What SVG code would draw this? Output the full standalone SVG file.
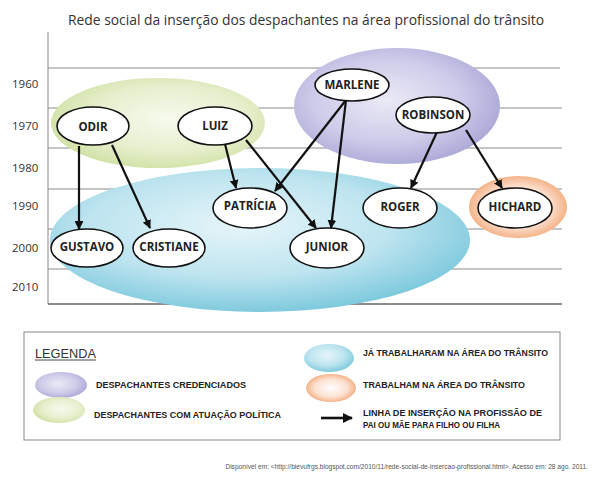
<svg xmlns="http://www.w3.org/2000/svg" width="600" height="477" viewBox="0 0 600 477">
<defs>
<radialGradient id="gGreen" cx="0.55" cy="0.45" r="0.6"><stop offset="0" stop-color="#f7faee"/><stop offset="0.6" stop-color="#e6efcd"/><stop offset="1" stop-color="#cfe0a2"/></radialGradient>
<radialGradient id="gPurple" cx="0.45" cy="0.45" r="0.6"><stop offset="0" stop-color="#ebeaf6"/><stop offset="0.6" stop-color="#cdcbe9"/><stop offset="1" stop-color="#a9a5d6"/></radialGradient>
<radialGradient id="gBlue" cx="0.45" cy="0.4" r="0.6"><stop offset="0" stop-color="#e6f5f9"/><stop offset="0.6" stop-color="#bde4ef"/><stop offset="1" stop-color="#80cade"/></radialGradient>
<radialGradient id="gOrange" cx="0.5" cy="0.5" r="0.55"><stop offset="0" stop-color="#fff"/><stop offset="0.6" stop-color="#fce0cf"/><stop offset="1" stop-color="#f2a674"/></radialGradient>
<marker id="ah" viewBox="0 0 10 10" refX="9" refY="5" markerWidth="4" markerHeight="4" orient="auto"><path d="M0,0 L10,5 L0,10 z" fill="#111"/></marker>
<style>
.grid{stroke:#8a8a8a;stroke-width:1}
.yr{font-family:"Open Sans","Liberation Sans",sans-serif;font-size:11.5px;fill:#333}
.node ellipse{fill:#fff;stroke:#111;stroke-width:1.6}
.node text{font-family:"Open Sans","Liberation Sans",sans-serif;font-weight:bold;font-size:11.5px;fill:#222;text-anchor:middle;dominant-baseline:central}
.arr{stroke:#111;stroke-width:2.2;fill:none;marker-end:url(#ah)}
.leg{font-family:"Liberation Sans",Arial,sans-serif;font-weight:bold;font-size:8.5px;fill:#222}
</style>
</defs>
<rect width="600" height="477" fill="#fff"/>
<text x="306" y="25" text-anchor="middle" font-family="'Open Sans','Liberation Sans',sans-serif" font-size="14.5" fill="#333" textLength="476" lengthAdjust="spacingAndGlyphs">Rede social da inserção dos despachantes na área profissional do trânsito</text>
<g id="grid">
<line class="grid" x1="48" y1="32" x2="48" y2="304"/>
<line class="grid" x1="48" y1="68" x2="560" y2="68"/>
<line class="grid" x1="48" y1="108" x2="562" y2="108"/>
<line class="grid" x1="48" y1="148" x2="562" y2="148"/>
<line class="grid" x1="48" y1="189" x2="562" y2="189"/>
<line class="grid" x1="48" y1="229" x2="562" y2="229"/>
<line class="grid" x1="48" y1="269" x2="562" y2="269"/>
<line x1="48" y1="304" x2="562" y2="304" stroke="#666" stroke-width="1.3"/>
<text class="yr" x="12" y="88">1960</text>
<text class="yr" x="12" y="130">1970</text>
<text class="yr" x="12" y="172">1980</text>
<text class="yr" x="12" y="210">1990</text>
<text class="yr" x="12" y="252">2000</text>
<text class="yr" x="12" y="291">2010</text>
</g>
<g id="groups">
<ellipse cx="158" cy="123" rx="107" ry="45" fill="url(#gGreen)"/>
<ellipse cx="397" cy="106" rx="103" ry="58" fill="url(#gPurple)"/>
<ellipse cx="260" cy="240" rx="210" ry="72" fill="url(#gBlue)"/>
<ellipse cx="518" cy="207" rx="49" ry="31" fill="url(#gOrange)"/>
</g>
<g id="connectors">
<line class="arr" x1="79" y1="146" x2="79" y2="229"/>
<line class="arr" x1="112" y1="145" x2="150" y2="228"/>
<line class="arr" x1="225" y1="144" x2="236" y2="188"/>
<line class="arr" x1="246" y1="140" x2="316" y2="228"/>
<line class="arr" x1="346" y1="100" x2="275" y2="191"/>
<line class="arr" x1="346" y1="100" x2="331" y2="228"/>
<line class="arr" x1="437" y1="132" x2="411" y2="188"/>
<line class="arr" x1="466" y1="130" x2="502" y2="188"/>
</g>
<g id="n-marlene" class="node"><ellipse cx="352" cy="85" rx="37" ry="16"/><text x="352" y="84">MARLENE</text></g>
<g id="n-robinson" class="node"><ellipse cx="433" cy="115" rx="37" ry="18"/><text x="433" y="114">ROBINSON</text></g>
<g id="n-odir" class="node"><ellipse cx="93" cy="126" rx="36" ry="19"/><text x="93" y="126">ODIR</text></g>
<g id="n-luiz" class="node"><ellipse cx="215" cy="126" rx="37" ry="19"/><text x="215" y="125">LUIZ</text></g>
<g id="n-patricia" class="node"><ellipse cx="250" cy="208" rx="37" ry="20"/><text x="250" y="205">PATRÍCIA</text></g>
<g id="n-roger" class="node"><ellipse cx="400" cy="208" rx="37" ry="20"/><text x="400" y="206">ROGER</text></g>
<g id="n-hichard" class="node"><ellipse cx="515" cy="208" rx="37" ry="20"/><text x="515" y="206">HICHARD</text></g>
<g id="n-gustavo" class="node"><ellipse cx="87" cy="248" rx="36" ry="19"/><text x="87" y="246">GUSTAVO</text></g>
<g id="n-cristiane" class="node"><ellipse cx="169" cy="248" rx="36" ry="19"/><text x="169" y="246">CRISTIANE</text></g>
<g id="n-junior" class="node"><ellipse cx="327" cy="248" rx="37" ry="20"/><text x="327" y="246">JUNIOR</text></g>
<g id="legend">
<rect x="24" y="332" width="536" height="108" fill="#fff" stroke="#888" stroke-width="1"/>
<text x="35" y="358" font-family="'Liberation Sans',Arial,sans-serif" font-size="13" fill="#333" textLength="61" lengthAdjust="spacingAndGlyphs">LEGENDA</text>
<line x1="35" y1="360" x2="96" y2="360" stroke="#333" stroke-width="0.9"/>
<ellipse cx="61" cy="385" rx="26" ry="13" fill="url(#gPurple)"/>
<ellipse cx="59" cy="410" rx="26" ry="13" fill="url(#gGreen)"/>
<ellipse cx="329" cy="358" rx="25" ry="14" fill="url(#gBlue)"/>
<ellipse cx="331" cy="388" rx="25" ry="14" fill="url(#gOrange)"/>
<text class="leg" x="96" y="388" textLength="150" lengthAdjust="spacingAndGlyphs">DESPACHANTES CREDENCIADOS</text>
<text class="leg" x="94" y="418" textLength="187" lengthAdjust="spacingAndGlyphs">DESPACHANTES COM ATUAÇÃO POLÍTICA</text>
<text class="leg" x="363" y="356" textLength="185" lengthAdjust="spacingAndGlyphs">JÁ TRABALHARAM NA ÁREA DO TRÂNSITO</text>
<text class="leg" x="363" y="388" textLength="162" lengthAdjust="spacingAndGlyphs">TRABALHAM NA ÁREA DO TRÂNSITO</text>
<text class="leg" x="363" y="416" textLength="179" lengthAdjust="spacingAndGlyphs">LINHA DE INSERÇÃO NA PROFISSÃO DE</text>
<text class="leg" x="363" y="428" textLength="137" lengthAdjust="spacingAndGlyphs">PAI OU MÃE PARA FILHO OU FILHA</text>
<line x1="321" y1="418" x2="352" y2="418" stroke="#111" stroke-width="2.6" marker-end="url(#ah)"/>
</g>
<text x="588" y="469" text-anchor="end" font-family="'Liberation Sans',Arial,sans-serif" font-size="6.6" fill="#555">Disponível em: &lt;http://bievufrgs.blogspot.com/2010/11/rede-social-de-insercao-profissional.html&gt;.  Acesso em: 28 ago. 2011.</text>
</svg>
